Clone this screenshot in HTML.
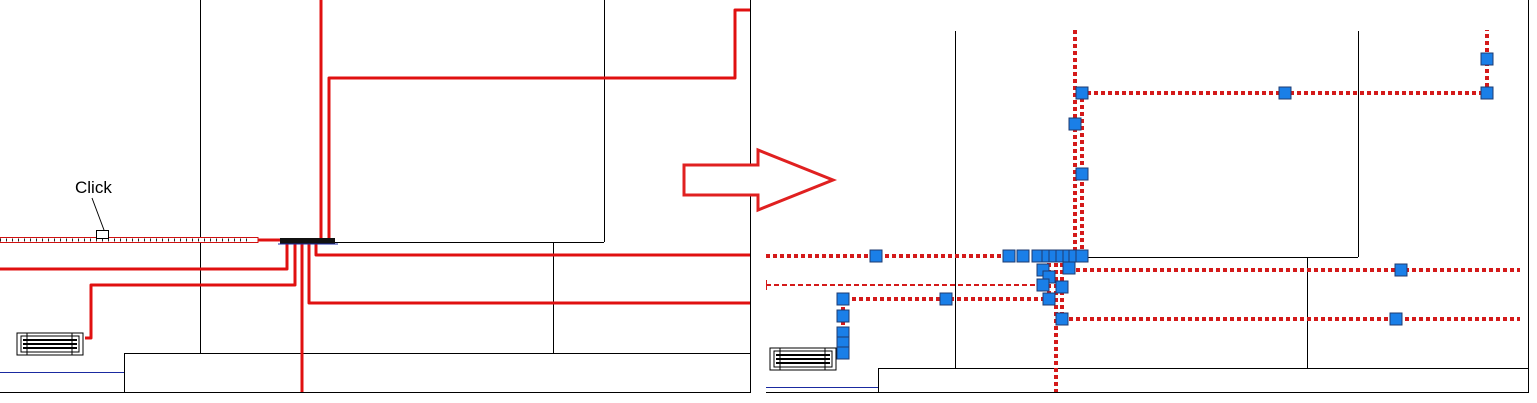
<!DOCTYPE html>
<html><head><style>body{margin:0;background:#fff}svg{display:block}</style></head><body>
<svg width="1537" height="403" viewBox="0 0 1537 403" xmlns="http://www.w3.org/2000/svg" font-family="Liberation Sans, sans-serif">
<defs>
<g id="rad">
<rect x="0" y="0" width="66" height="22" fill="#fff" stroke="#000" stroke-width="1"/>
<rect x="4" y="3" width="58" height="16" fill="none" stroke="#000" stroke-width="1"/>
<line x1="6" y1="7" x2="60" y2="7" stroke="#000" stroke-width="2"/>
<line x1="6" y1="11" x2="60" y2="11" stroke="#000" stroke-width="2"/>
<line x1="6" y1="15" x2="60" y2="15" stroke="#000" stroke-width="2"/>
<line x1="10" y1="0" x2="10" y2="22" stroke="#000"/>
<line x1="55" y1="0" x2="55" y2="22" stroke="#000"/>
</g>
</defs>
<g stroke="#000" stroke-width="1" fill="none">
<line x1="200.5" y1="0" x2="200.5" y2="353"/>
<line x1="604.5" y1="0" x2="604.5" y2="242"/>
<line x1="333" y1="242.5" x2="604" y2="242.5"/>
<line x1="553.5" y1="242" x2="553.5" y2="353"/>
<polyline points="124.5,393 124.5,353.5 750,353.5"/>
<line x1="0" y1="392.5" x2="750" y2="392.5"/>
<line x1="750.5" y1="0" x2="750.5" y2="393"/>
<line x1="955.5" y1="31" x2="955.5" y2="368"/>
<line x1="1358.5" y1="31" x2="1358.5" y2="257"/>
<line x1="1085" y1="257.5" x2="1358" y2="257.5"/>
<line x1="1307.5" y1="257" x2="1307.5" y2="368"/>
<polyline points="878.5,392 878.5,368.5 1528,368.5"/>
<line x1="766" y1="392.5" x2="1528" y2="392.5"/>
<line x1="1528.5" y1="0" x2="1528.5" y2="393"/>
</g>
<line x1="0" y1="372.5" x2="124" y2="372.5" stroke="#1a2aa0"/>
<line x1="766" y1="387.5" x2="878" y2="387.5" stroke="#1a2aa0"/>
<g stroke="#e01010" stroke-width="3" fill="none" stroke-linejoin="round">
<line x1="321" y1="0" x2="321" y2="240"/>
<polyline points="329,240 329,78 735,78 735,10 750,10"/>
<polyline points="316,242 316,255 750,255"/>
<polyline points="0,269 287,269 287,242"/>
<polyline points="85,338 91,338 91,285 295,285 295,242"/>
<line x1="302" y1="242" x2="302" y2="392"/>
<polyline points="309,242 309,303 750,303"/>
<line x1="258" y1="240" x2="282" y2="240"/>
</g>
<rect x="0" y="237.5" width="258" height="5" fill="#fff" stroke="#d01010" stroke-width="1"/>
<line x1="0" y1="240" x2="250" y2="240" stroke="#222" stroke-width="3" stroke-dasharray="1 5"/>
<rect x="280" y="238" width="55" height="6" fill="#111"/>
<line x1="278" y1="244" x2="338" y2="244" stroke="#1a2aa0" stroke-width="1"/>
<text x="75" y="193" font-size="17" fill="#000">Click</text>
<line x1="92" y1="198" x2="104" y2="230" stroke="#000" stroke-width="1"/>
<rect x="96.5" y="230.5" width="12" height="8" fill="#fff" stroke="#000"/>
<use href="#rad" x="17" y="333"/>
<polygon points="684,165 758,165 758,150 833,180 758,210 758,195 684,195" fill="#fff" stroke="#e02020" stroke-width="3"/>
<g stroke="#d41a1a" stroke-width="4" fill="none" stroke-dasharray="4 3">
<line x1="766" y1="256" x2="1082" y2="256"/>
<polyline points="843,353 843,299 1050,299"/>
<line x1="1075" y1="30" x2="1075" y2="256"/>
<polyline points="1082,256 1082,93 1487,93 1487,30"/>
<line x1="1069" y1="270" x2="1520" y2="270"/>
<line x1="1062" y1="319" x2="1520" y2="319"/>
<line x1="1062" y1="256" x2="1062" y2="319"/>
<line x1="1056" y1="256" x2="1056" y2="392"/>
<line x1="1049" y1="256" x2="1049" y2="299"/>
</g>
<line x1="766" y1="285" x2="1045" y2="285" stroke="#d41a1a" stroke-width="2" stroke-dasharray="5 3"/>
<line x1="766.5" y1="280" x2="766.5" y2="290" stroke="#d41a1a"/>
<use href="#rad" x="770" y="348"/>
<g fill="#1a7fe8" stroke="#1f3b70" stroke-width="1">
<rect x="870" y="250" width="12" height="12"/>
<rect x="1003" y="250" width="12" height="12"/>
<rect x="1017" y="250" width="12" height="12"/>
<rect x="1032" y="250" width="12" height="12"/>
<rect x="1042" y="250" width="12" height="12"/>
<rect x="1049" y="250" width="12" height="12"/>
<rect x="1056" y="250" width="12" height="12"/>
<rect x="1063" y="250" width="12" height="12"/>
<rect x="1069" y="250" width="12" height="12"/>
<rect x="1076" y="250" width="12" height="12"/>
<rect x="1037" y="264" width="12" height="12"/>
<rect x="1063" y="262" width="12" height="12"/>
<rect x="1043" y="271" width="12" height="12"/>
<rect x="1037" y="279" width="12" height="12"/>
<rect x="1056" y="281" width="12" height="12"/>
<rect x="1043" y="293" width="12" height="12"/>
<rect x="940" y="293" width="12" height="12"/>
<rect x="837" y="293" width="12" height="12"/>
<rect x="837" y="310" width="12" height="12"/>
<rect x="837" y="327" width="12" height="12"/>
<rect x="837" y="337" width="12" height="12"/>
<rect x="837" y="347" width="12" height="12"/>
<rect x="1056" y="313" width="12" height="12"/>
<rect x="1076" y="87" width="12" height="12"/>
<rect x="1279" y="87" width="12" height="12"/>
<rect x="1481" y="87" width="12" height="12"/>
<rect x="1481" y="53" width="12" height="12"/>
<rect x="1069" y="118" width="12" height="12"/>
<rect x="1076" y="168" width="12" height="12"/>
<rect x="1395" y="264" width="12" height="12"/>
<rect x="1390" y="313" width="12" height="12"/>
</g>
</svg>
</body></html>
